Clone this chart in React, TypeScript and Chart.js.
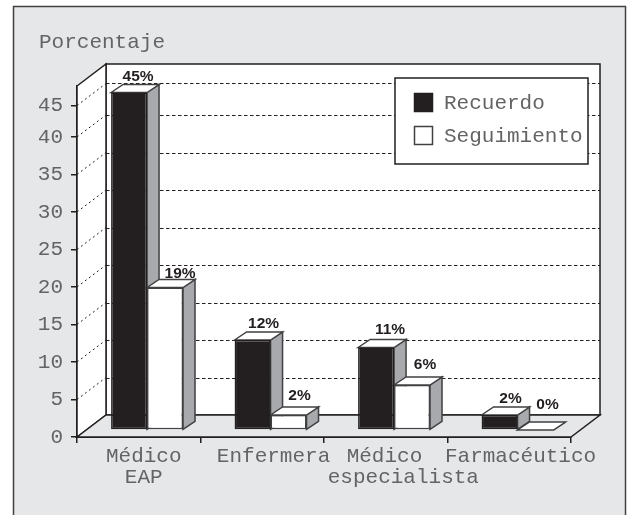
import React, { useEffect, useRef } from "react";
import { Chart, registerables } from "chart.js";

Chart.register(...registerables);

const categories = [["Médico", "EAP"], [" Enfermera"], ["Médico ", "  especialista"], [" Farmacéutico"]];
const recuerdo = [45, 12, 11, 2];
const seguimiento = [19, 2, 6, 0];
const seriesNames = ["Recuerdo", "Seguimiento"];
// The top tick of the source axis sits slightly below its linear place.
const yTickValues = [0, 5, 10, 15, 20, 25, 30, 35, 40, 44.2];
const yTickLabels = ["0", "5", "10", "15", "20", "25", "30", "35", "40", "45"];
const axisTitle = "Porcentaje";

const labelNudgeX = [[9, 11, 14, 11], [15, 11, 13, 12]];
const labelNudgeY = [[4, 4, 6, 4], [2, 7, 8, 13]];

const INK = "#231f20";
const EDGE = "#414042";
const TEXT = "#636466";
const PANEL = "#e6e7e8";
const SIDE = "#a7a9ac";
const MONO = "'Liberation Mono', monospace";

const WALL_DX = 29;
const WALL_DY = -22;
const BAR_DX = 12;
const BAR_DY = -8;
const FLOOR_SHIFT_X = 8.3;
const FLOOR_SHIFT_Y = -7;

const poly = (ctx: CanvasRenderingContext2D, pts: number[][], fill: string | null, stroke: string | null, lw = 1.5) => {
  ctx.beginPath();
  pts.forEach(([x, y], i) => (i ? ctx.lineTo(x, y) : ctx.moveTo(x, y)));
  ctx.closePath();
  if (fill) {
    ctx.fillStyle = fill;
    ctx.fill();
  }
  if (stroke) {
    ctx.strokeStyle = stroke;
    ctx.lineWidth = lw;
    ctx.lineJoin = "miter";
    ctx.stroke();
  }
};

const threeD = {
  id: "threeD",
  beforeDraw(chart: any) {
    const { ctx } = chart;
    ctx.save();
    ctx.fillStyle = PANEL;
    ctx.strokeStyle = EDGE;
    ctx.lineWidth = 1.5;
    ctx.fillRect(13.5, 6.5, 612, 520);
    ctx.strokeRect(13.5, 6.5, 612, 520);
    ctx.restore();
  },
  beforeDatasetsDraw(chart: any) {
    const { ctx, chartArea: a, scales } = chart;
    const { left: l, right: r, top: t, bottom: b } = a;
    const dx = WALL_DX;
    const dy = WALL_DY;
    ctx.save();
    // back wall and side wall
    poly(ctx, [[l + dx, t + dy], [r + dx, t + dy], [r + dx, b + dy], [l + dx, b + dy]], "#ffffff", INK);
    poly(ctx, [[l, t], [l + dx, t + dy], [l + dx, b + dy], [l, b]], "#ffffff", INK);
    // floor
    poly(ctx, [[l, b], [l + dx, b + dy], [r + dx, b + dy], [r, b]], PANEL, INK);
    // grid lines
    ctx.lineWidth = 1;
    ctx.strokeStyle = INK;
    yTickValues.slice(1).forEach((v) => {
      const y = scales.y.getPixelForValue(v);
      ctx.setLineDash([2, 3]);
      ctx.beginPath();
      ctx.moveTo(l, y);
      ctx.lineTo(l + dx, y + dy);
      ctx.stroke();
      ctx.setLineDash([3.5, 2.5]);
      ctx.beginPath();
      ctx.moveTo(l + dx, Math.round(y + dy) + 0.5);
      ctx.lineTo(r + dx, Math.round(y + dy) + 0.5);
      ctx.stroke();
    });
    ctx.setLineDash([]);
    // top and side faces, first series first; the front faces follow from the bar elements
    ctx.translate(FLOOR_SHIFT_X, FLOOR_SHIFT_Y);
    chart.data.datasets.forEach((_ds: any, d: number) => {
      chart.getDatasetMeta(d).data.forEach((el: any) => {
        const { x, y, base, width } = el.getProps(["x", "y", "base", "width"], true);
        const x1 = x + width / 2;
        const x0 = x - width / 2;
        poly(ctx, [[x1, y], [x1 + BAR_DX, y + BAR_DY], [x1 + BAR_DX, base + BAR_DY], [x1, base]], SIDE, EDGE);
        poly(ctx, [[x0, y], [x0 + BAR_DX, y + BAR_DY], [x1 + BAR_DX, y + BAR_DY], [x1, y]], "#ffffff", EDGE);
      });
    });
    ctx.restore();
  },
  beforeDatasetDraw(chart: any) {
    const { ctx } = chart;
    ctx.save();
    ctx.translate(FLOOR_SHIFT_X, FLOOR_SHIFT_Y);
  },
  afterDatasetDraw(chart: any) {
    chart.ctx.restore();
  },
  afterDatasetsDraw(chart: any) {
    const { ctx, data } = chart;
    ctx.save();
    ctx.translate(FLOOR_SHIFT_X, FLOOR_SHIFT_Y);
    ctx.font = "bold 15.5px 'Liberation Sans', sans-serif";
    ctx.textAlign = "center";
    ctx.textBaseline = "alphabetic";
    ctx.fillStyle = INK;
    data.datasets.forEach((ds: any, d: number) => {
      chart.getDatasetMeta(d).data.forEach((el: any, i: number) => {
        const { x, y } = el.getProps(["x", "y"], true);
        ctx.fillText(`${ds.data[i]}%`, x + labelNudgeX[d][i], y + BAR_DY - labelNudgeY[d][i]);
      });
    });
    ctx.restore();

    // legend
    ctx.save();
    poly(ctx, [[395, 78], [588, 78], [588, 164], [395, 164]], "#ffffff", INK);
    ctx.font = `21px ${MONO}`;
    ctx.textAlign = "left";
    ctx.textBaseline = "middle";
    data.datasets.forEach((ds: any, d: number) => {
      const top = 93.5 + d * 33;
      poly(ctx, [[414.5, top], [432.5, top], [432.5, top + 18], [414.5, top + 18]], ds.backgroundColor, ds.borderColor);
      ctx.fillStyle = TEXT;
      ctx.fillText(ds.label, 444, top + 9.5);
    });
    ctx.restore();
  },
};

export default function App() {
  const ref = useRef<HTMLCanvasElement | null>(null);

  useEffect(() => {
    const chart = new Chart(ref.current as HTMLCanvasElement, {
      type: "bar",
      data: {
        labels: categories,
        datasets: [
          {
            label: seriesNames[0],
            data: recuerdo,
            backgroundColor: INK,
            borderColor: INK,
            borderWidth: 1.5,
            borderSkipped: false,
            clip: false,
          },
          {
            label: seriesNames[1],
            data: seguimiento,
            backgroundColor: "#ffffff",
            borderColor: EDGE,
            borderWidth: 1.5,
            borderSkipped: false,
            clip: false,
          },
        ] as any,
      },
      plugins: [threeD],
      options: {
        animation: false,
        responsive: false,
        layout: { padding: { left: 39, right: 59, top: 30, bottom: 0 } },
        datasets: { bar: { categoryPercentage: 0.5825, barPercentage: 1 } },
        plugins: {
          legend: { display: false },
          tooltip: { enabled: false },
          title: {
            display: true,
            text: axisTitle,
            align: "start",
            color: TEXT,
            font: { family: MONO, size: 21, weight: "normal", lineHeight: 1.2 },
            padding: { top: 0, bottom: 30.8 },
          },
        },
        scales: {
          x: {
            afterFit: (s: any) => {
              s.height = 78;
            },
            grid: { drawOnChartArea: false, tickLength: 6, color: INK, lineWidth: 1.5 },
            border: { display: true, color: INK, width: 2 },
            ticks: {
              autoSkip: false,
              maxRotation: 0,
              minRotation: 0,
              labelOffset: 5,
              padding: 3,
              color: TEXT,
              font: { family: MONO, size: 21, lineHeight: 1 },
            },
          },
          y: {
            min: 0,
            max: 46.8,
            afterFit: (s: any) => {
              s.width = 38;
            },
            afterBuildTicks: (s: any) => {
              s.ticks = yTickValues.map((value) => ({ value }));
            },
            grid: { drawOnChartArea: false, tickLength: 6, color: INK, lineWidth: 1.5 },
            border: { display: true, color: INK, width: 2 },
            ticks: {
              autoSkip: false,
              padding: 8,
              color: TEXT,
              font: { family: MONO, size: 21, lineHeight: 1 },
              callback: (_v: any, i: number) => yTickLabels[i],
            },
          },
        },
      } as any,
    });
    return () => chart.destroy();
  }, []);

  return (
    <div style={{ position: "absolute", left: 0, top: 0, width: 630, height: 515, overflow: "hidden" }}>
      <canvas ref={ref} width={630} height={515} style={{ display: "block" }} />
    </div>
  );
}
